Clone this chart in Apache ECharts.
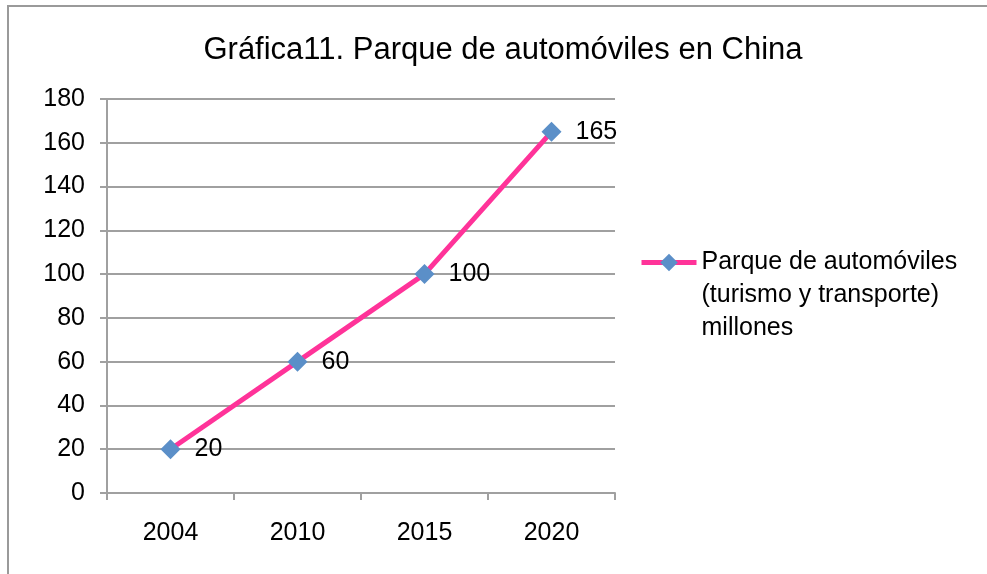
<!DOCTYPE html>
<html>
<head>
<meta charset="utf-8">
<script src="https://cdn.jsdelivr.net/npm/echarts@6/dist/echarts.min.js"></script>
<style>
  html, body { margin: 0; padding: 0; background: #fff; }
  #chart { width: 987px; height: 574px; }
</style>
</head>
<body>
<div id="chart"></div>
<script>
const years = ['2004', '2010', '2015', '2020']
const cars = [20, 60, 100, 165]
const seriesName = 'Parque de automóviles\n(turismo y transporte)\nmillones'

const font = '"Liberation Sans", Arial, sans-serif'

let option = {
  animation: false,
  textStyle: { fontFamily: font },
  graphic: [{
    type: 'rect',
    shape: { x: 8, y: 6, width: 1100, height: 700 },
    style: { fill: 'none', stroke: '#9a9a9a', lineWidth: 2 },
    silent: true
  }],
  title: {
    text: 'Gráfica11. Parque de automóviles en China',
    left: 498,
    top: 30,
    textAlign: 'center',
    textStyle: { fontFamily: font, fontSize: 31, fontWeight: 'normal', color: '#000' }
  },
  legend: {
    left: 639,
    top: 180,
    padding: 0,
    itemWidth: 55,
    itemHeight: 22,
    itemGap: 0,
    lineStyle: { width: 5 },
    // two blank lines first so the icon lines up with the first text line
    formatter: name => '\n\n' + name,
    textStyle: {
      fontFamily: font, fontSize: 25, color: '#000', lineHeight: 33
    },
    data: [seriesName]
  },
  grid: {
    left: 107,
    right: 372,
    top: 99,
    bottom: 81,
    containLabel: false
  },
  xAxis: {
    type: 'category',
    data: years,
    boundaryGap: true,
    axisLine: { lineStyle: { color: '#a0a0a0', width: 2 } },
    axisTick: { show: true, length: 7, lineStyle: { color: '#a0a0a0', width: 2 } },
    axisLabel: { color: '#000', fontSize: 25, margin: 28, fontFamily: font }
  },
  yAxis: {
    type: 'value',
    min: 0,
    max: 180,
    interval: 20,
    axisLine: { show: true, lineStyle: { color: '#a0a0a0', width: 2 } },
    axisTick: { show: true, length: 7, lineStyle: { color: '#a0a0a0', width: 2 } },
    splitLine: { lineStyle: { color: '#a0a0a0', width: 2 } },
    axisLabel: { color: '#000', fontSize: 25, margin: 22, fontFamily: font }
  },
  series: [{
    name: seriesName,
    type: 'line',
    data: cars,
    symbol: 'diamond',
    symbolSize: 20,
    itemStyle: { color: '#5b8fc8' },
    lineStyle: { color: '#ff3399', width: 5 },
    label: {
      show: true,
      position: 'right',
      distance: 14,
      color: '#000',
      fontSize: 25,
      fontFamily: font
    }
  }]
}

let chart = echarts.init(document.getElementById('chart'))
chart.setOption(option)
</script>
</body>
</html>
